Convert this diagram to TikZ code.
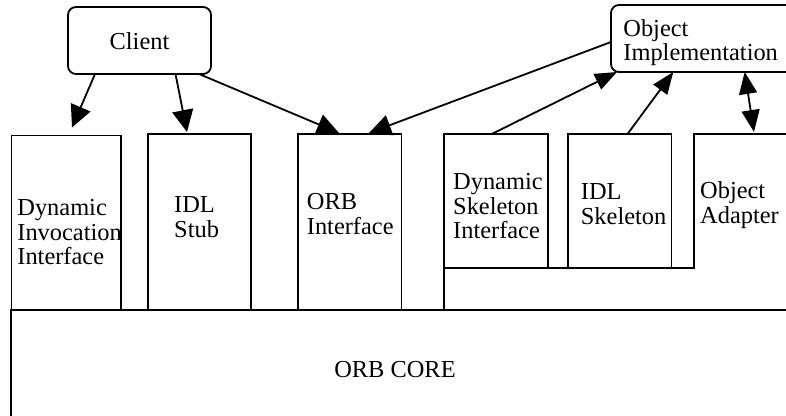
\documentclass[tikz,border=0pt]{standalone}
\usepackage{fontspec}
\setmainfont{Liberation Serif}
\usetikzlibrary{arrows.meta,fit}

\begin{document}
\begin{tikzpicture}[x=0.5pt,y=-0.5pt,
  line width=0.9pt,
  font=\fontsize{12.2}{12.2}\selectfont,
  blk/.style={draw, rectangle, inner sep=0pt, outer sep=0pt},
  rblk/.style={blk, rounded corners=4pt, fill=white},
  area/.style={rectangle, inner sep=0pt, outer sep=0pt},
  lbl/.style={anchor=base west, inner sep=0pt},
  arr/.style={-{Triangle[length=11pt,width=10.5pt]}},
  arrn/.style={-{Triangle[length=11pt,width=8.5pt]}},
  darr/.style={{Triangle[length=11pt,width=9pt]}-{Triangle[length=11pt,width=9pt]}},
]
\path[use as bounding box] (0,0) rectangle (786,416);
\clip (0,0) rectangle (786,416);

% ORB core along the bottom
\node[blk, fit={(11,310) (800,440)}] (core) {};
\draw[line width=1.4pt] (core.north west) -- (core.north east);
\node[anchor=base, inner sep=0pt] (coret) at (395,377) {ORB CORE};

% client-side interfaces
\node[blk, fit={(11.5,135.5) (121,310)}] (dii) {};
\node[blk, fit={(148,134) (251,310)}] (stub) {};
\node[blk, fit={(298,134) (401.5,310)}] (orbif) {};

% server-side interfaces
\node[blk, fit={(444,134) (548,268)}] (dsi) {};
\node[blk, fit={(568,134) (671.5,268)}] (skel) {};
\node[area, fit={(694,134) (800,268)}] (oa) {};
\draw (dsi.south west) -- (444,310);
\draw (dsi.south west) -- (oa.south west) -- (oa.north west) -- (oa.north east);

% labels
\node[lbl] (diit) at (16.5,216) {\begin{tabular}[t]{@{}l@{}}Dynamic\\Invocation\\Interface\end{tabular}};
\node[lbl] (stubt) at (173.3,212.7) {\begin{tabular}[t]{@{}l@{}}IDL\\Stub\end{tabular}};
\node[lbl] (orbift) at (306,210) {\begin{tabular}[t]{@{}l@{}}ORB\\Interface\end{tabular}};
\node[lbl] (dsit) at (452.3,190) {\begin{tabular}[t]{@{}l@{}}Dynamic\\Skeleton\\Interface\end{tabular}};
\node[lbl] (skelt) at (580,200) {\begin{tabular}[t]{@{}l@{}}IDL\\Skeleton\end{tabular}};
\node[lbl] (oat) at (699.3,198.7) {\begin{tabular}[t]{@{}l@{}}Object\\Adapter\end{tabular}};

% client and object implementation
\node[rblk, fit={(68,7) (211,74)}] (client) {};
\node[anchor=base, inner sep=0pt] (clientt) at (139.5,50) {Client};
\node[rblk, fit={(611,5) (810,72)}] (oi) {};
\node[lbl] (oit) at (622.5,36.5) {\begin{tabular}[t]{@{}l@{}}Object\\Implementation\end{tabular}};

% requests from the client
\draw[arr] ([xshift=13.5pt]client.south west) -- ([xshift=30.25pt,yshift=4pt]dii.north west);
\draw[arr] ([xshift=53.75pt]client.south west) -- ([xshift=19.5pt,yshift=1pt]stub.north west);
\draw[arr] ([xshift=65.5pt]client.south west) -- ([xshift=20.5pt,yshift=0.5pt]orbif.north west);

% object implementation side
\draw[arr] ([yshift=15pt]oi.south west) -- ([xshift=35.5pt,yshift=0.5pt]orbif.north west);
\draw[arrn] ([xshift=23.85pt]dsi.north west) -- ([xshift=3pt]oi.south west);
\draw[arrn] ([xshift=29.75pt]skel.north west) -- ([xshift=31.15pt]oi.south west);
\draw[darr] ([xshift=66.85pt]oi.south west) -- ([xshift=30pt,yshift=1pt]oa.north west);
\end{tikzpicture}
\end{document}
